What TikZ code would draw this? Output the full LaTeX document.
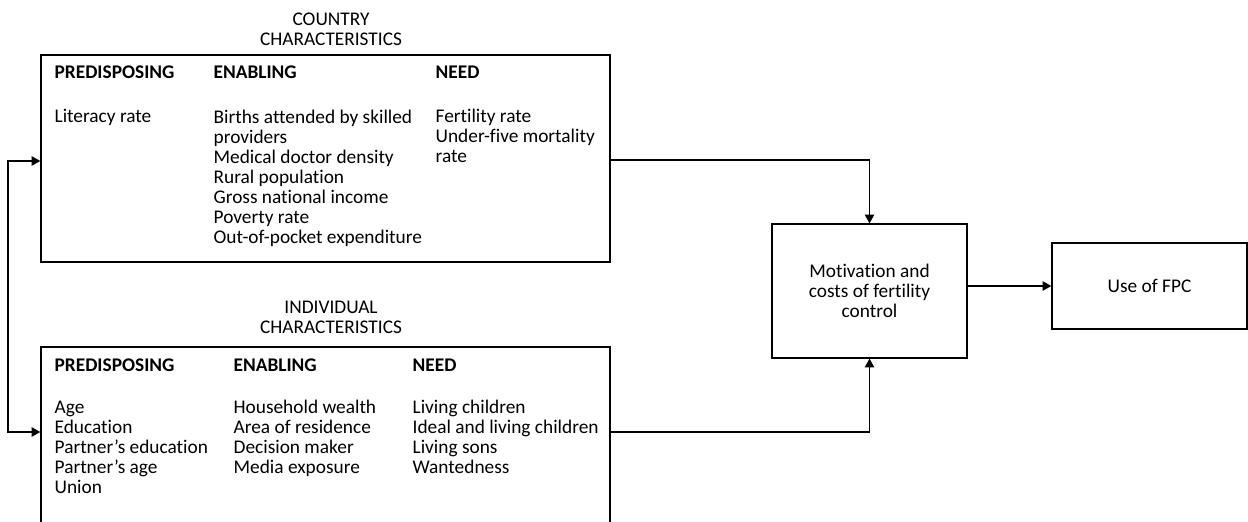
\documentclass[tikz,border=0pt]{standalone}
\usepackage{fontspec}
\setmainfont{Carlito}[Ligatures=NoCommon]
\usepackage{tikz}
\usetikzlibrary{arrows,arrows.meta,positioning,fit}
\tikzset{font=\fontsize{14.5}{15}\selectfont}
\tikzset{every picture/.style={line width=1pt}}
\tikzstyle{bigbox}=[draw,rectangle,inner sep=0pt]
\tikzstyle{col}=[anchor=base west,align=left,inner sep=0pt]
\tikzstyle{head}=[col,font=\fontsize{14.5}{15}\selectfont\bfseries]

\begin{document}
\begin{tikzpicture}[x=0.75pt,y=-0.75pt,>={Triangle[length=6.5pt,width=7pt]}]
\useasboundingbox (0,0) rectangle (1248,521);
\clip (0,0) rectangle (1248,521);
% country level (multi-line columns sit on their last baseline)
\node[align=center] (ctitle) at (331,29) {COUNTRY\\CHARACTERISTICS};
\node[bigbox,fit={(41,55) (610,262)}] (country) {};
\node[head] (cpre) at (54,78) {PREDISPOSING};
\node[head] (cena) at (213,78) {ENABLING};
\node[head] (cnee) at (435,78) {NEED};
\node[col] (cpre1) at (54,122.5) {Literacy rate};
\node[col] (cena1) at (213,243) {Births attended by skilled\\providers\\Medical doctor density\\Rural population\\Gross national income\\Poverty rate\\Out-of-pocket expenditure};
\node[col] (cnee1) at (435,162.5) {Fertility rate\\Under-five mortality\\rate};
% individual level
\node[align=center] (ititle) at (331,317) {INDIVIDUAL\\CHARACTERISTICS};
\node[bigbox,fit={(41,347) (610,560)}] (indiv) {};
\node[head] (ipre) at (54,371) {PREDISPOSING};
\node[head] (iena) at (233,371) {ENABLING};
\node[head] (inee) at (412,371) {NEED};
\node[col] (ipre1) at (54,493) {Age\\Education\\Partner’s education\\Partner’s age\\Union};
\node[col] (iena1) at (233,473) {Household wealth\\Area of residence\\Decision maker\\Media exposure};
\node[col] (inee1) at (412,473) {Living children\\Ideal and living children\\Living sons\\Wantedness};
% outcome boxes
\node[bigbox,minimum width=146.25pt,minimum height=100.5pt,align=center] (motiv) at (869.5,291) {Motivation and\\costs of fertility\\control};
\node[bigbox,minimum width=146.25pt,minimum height=64.5pt] (fpc) at (1149.5,286) {Use of FPC};
\coordinate (fbtop) at (8,161);
\coordinate (fbbot) at (8,432);
\coordinate (cout) at (610,160);
\coordinate (iout) at (610,432);
\path[->]
(cout -| motiv.north) edge (motiv.north)
(iout -| motiv.south) edge (motiv.south)
(motiv.east |- fpc.west) edge (fpc.west);
\draw (cout) -- (cout -| motiv.north);
\draw (iout) -- (iout -| motiv.south);
\draw[<->] (country.west |- fbtop) -- (fbtop) -- (fbbot) -- (indiv.west |- fbbot);
\end{tikzpicture}
\end{document}
